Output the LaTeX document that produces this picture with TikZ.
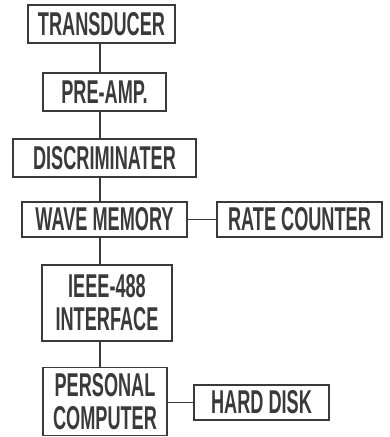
\documentclass[tikz,border=0pt]{standalone}
\usepackage{fontspec}
\setmainfont{Liberation Sans}[FakeStretch=0.55]
\definecolor{ink}{HTML}{3A3A3A}
\begin{document}
\begin{tikzpicture}[x=1pt,y=-1pt,
  blk/.style={draw=ink,line width=1.4pt,text=ink,inner sep=0pt,align=center,
    font=\fontsize{33}{33}\selectfont\bfseries},
  wire/.style={draw=ink,line width=1.4pt}]
\useasboundingbox (0,0) rectangle (390,437);
\node[blk,minimum width=147pt,minimum height=38pt] (t) at (101.5,24) {TRANSDUCER};
\node[blk,minimum width=123pt,minimum height=38pt] (p) at (104.5,92) {PRE-AMP.};
\node[blk,minimum width=183pt,minimum height=38pt] (d) at (104.5,158) {DISCRIMINATER};
\node[blk,minimum width=165pt,minimum height=35pt] (w) at (104.5,219.5) {WAVE MEMORY};
\node[blk,minimum width=165pt,minimum height=35pt] (r) at (299.5,219.5) {RATE COUNTER};
\node[blk,minimum width=130pt,minimum height=76pt] (i) at (107,303) {IEEE-488\\INTERFACE};
\node[blk,minimum width=124pt,minimum height=68pt] (c) at (105,401.5) {PERSONAL\\COMPUTER};
\node[blk,minimum width=135pt,minimum height=35pt] (h) at (261.5,402.5) {HARD DISK};
\coordinate (sp) at (100,0);
\draw[wire] (t.south -| sp) -- (p.north -| sp);
\draw[wire] (p.south -| sp) -- (d.north -| sp);
\draw[wire] (d.south -| sp) -- (w.north -| sp);
\draw[wire] (w.south -| sp) -- (i.north -| sp);
\draw[wire] (i.south -| sp) -- (c.north -| sp);
\draw[wire] (w.east) -- (r.west);
\draw[wire] (c.east |- h.west) -- (h.west);
\end{tikzpicture}
\end{document}
